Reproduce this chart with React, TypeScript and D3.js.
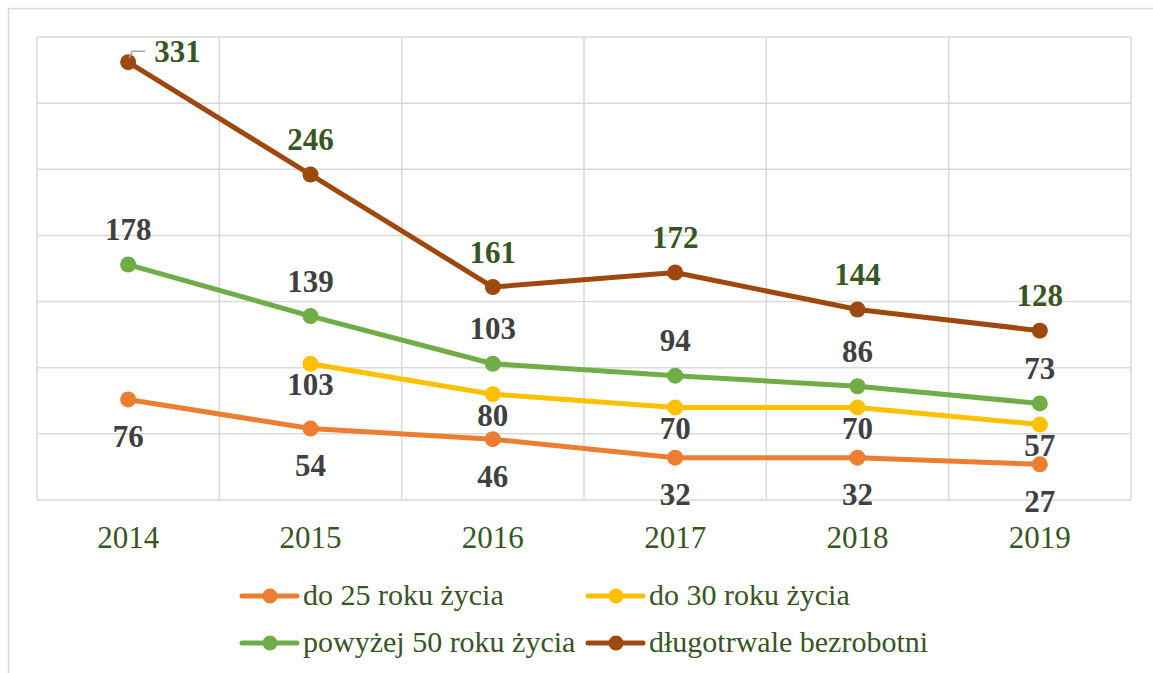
import React from 'react';
import * as d3 from 'd3';

const years = ['2014', '2015', '2016', '2017', '2018', '2019'];
const do25 = [76, 54, 46, 32, 32, 27];
const do30: (number | null)[] = [null, 103, 80, 70, 70, 57];
const pow50 = [178, 139, 103, 94, 86, 73];
const dlugo = [331, 246, 161, 172, 144, 128];
const seriesNames = ['do 25 roku życia', 'do 30 roku życia', 'powyżej 50 roku życia', 'długotrwale bezrobotni'];
const yTicks = [0, 50, 100, 150, 200, 250, 300, 350];

const W = 1153, H = 673;
const FONT = '"Liberation Serif", "Times New Roman", serif';
const DARKGREEN = '#375623';
const GRAY = '#404040';

export default function App() {
  const x = d3.scaleBand<string>().domain(years).range([37, 1131]).padding(0);
  const y = d3.scaleLinear().domain([0, 350]).range([500, 37]);
  const cx = (yr: string) => (x(yr) as number) + x.bandwidth() / 2;

  const series = [
    { name: seriesNames[0], values: do25 as (number | null)[], color: '#ED7D31', labelColor: GRAY, off: 47.5 },
    { name: seriesNames[1], values: do30, color: '#FFC000', labelColor: GRAY, off: 31.5 },
    { name: seriesNames[2], values: pow50 as (number | null)[], color: '#70AD47', labelColor: GRAY, off: -24.5 },
    { name: seriesNames[3], values: dlugo as (number | null)[], color: '#9E480E', labelColor: DARKGREEN, off: -24.5 },
  ];

  const line = d3
    .line<[string, number | null]>()
    .defined((d) => d[1] != null)
    .x((d) => cx(d[0]))
    .y((d) => y(d[1] as number));

  const bounds = [...years.map((yr) => x(yr) as number), 1131];

  const legendPos = [
    { lx: 242, ly: 596 },
    { lx: 588, ly: 596 },
    { lx: 242, ly: 643 },
    { lx: 588, ly: 643 },
  ];

  return (
    <div style={{ position: 'absolute', left: 0, top: 0 }}>
      <svg width={W} height={H} style={{ display: 'block', background: '#fff' }}>
        <rect x={8.5} y={8.5} width={1160} height={700} fill="#fff" stroke="#D9D9D9" strokeWidth={1.5} />
        {yTicks.map((t) => (
          <line key={'h' + t} x1={37} x2={1131} y1={y(t)} y2={y(t)} stroke="#D9D9D9" strokeWidth={1.5} />
        ))}
        {bounds.map((b, i) => (
          <line key={'v' + i} x1={b} x2={b} y1={37} y2={500} stroke="#D9D9D9" strokeWidth={1.5} />
        ))}
        {years.map((yr) => (
          <text key={'x' + yr} x={cx(yr)} y={548} textAnchor="middle" fontFamily={FONT} fontSize={31} fill={DARKGREEN}>
            {yr}
          </text>
        ))}
        {series.map((s) => {
          const pts = years.map((yr, i) => [yr, s.values[i]] as [string, number | null]);
          return (
            <g key={s.name}>
              <path d={line(pts) || ''} fill="none" stroke={s.color} strokeWidth={5} strokeLinejoin="round" strokeLinecap="round" />
              {pts
                .filter((p) => p[1] != null)
                .map((p) => (
                  <circle key={p[0]} cx={cx(p[0])} cy={y(p[1] as number)} r={8} fill={s.color} />
                ))}
            </g>
          );
        })}
        {series.map((s, si) => (
          <g key={'lab' + s.name}>
            {years.map((yr, i) => {
              const v = s.values[i];
              if (v == null) return null;
              const px = cx(yr);
              const py = y(v);
              if (si === 3 && i === 0) {
                return (
                  <g key={yr}>
                    <polyline
                      points={`${px + 1},${py - 4} ${px + 4},${py - 11} ${px + 17},${py - 11}`}
                      fill="none"
                      stroke="#A6A6A6"
                      strokeWidth={1.5}
                    />
                    <text x={px + 26} y={py} fontFamily={FONT} fontWeight="bold" fontSize={31} fill={s.labelColor}>
                      {v}
                    </text>
                  </g>
                );
              }
              return (
                <text key={yr} x={px} y={py + s.off} textAnchor="middle" fontFamily={FONT} fontWeight="bold" fontSize={31} fill={s.labelColor}>
                  {v}
                </text>
              );
            })}
          </g>
        ))}
        {series.map((s, i) => {
          const { lx, ly } = legendPos[i];
          return (
            <g key={'leg' + s.name}>
              <line x1={lx} x2={lx + 55} y1={ly} y2={ly} stroke={s.color} strokeWidth={5} strokeLinecap="round" />
              <circle cx={lx + 28} cy={ly} r={7.5} fill={s.color} />
              <text x={lx + 61} y={ly + 9} fontFamily={FONT} fontSize={30} fill={DARKGREEN}>
                {s.name}
              </text>
            </g>
          );
        })}
      </svg>
    </div>
  );
}
